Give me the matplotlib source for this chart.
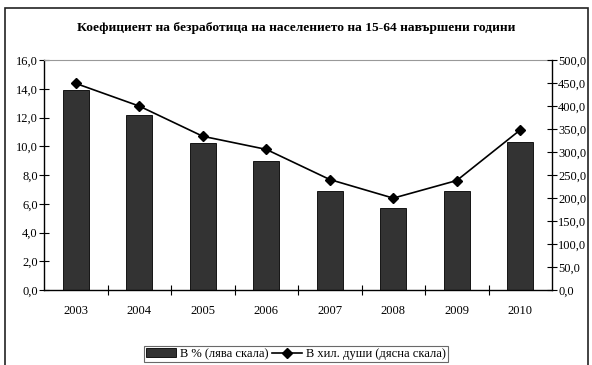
import matplotlib.pyplot as plt
import numpy as np
from matplotlib.patches import Rectangle
from matplotlib.ticker import FuncFormatter, FixedLocator

years = ["2003", "2004", "2005", "2006", "2007", "2008", "2009", "2010"]
rate_pct = [13.9, 12.2, 10.2, 9.0, 6.9, 5.7, 6.9, 10.3]
persons_k = [449.1, 399.8, 334.2, 305.7, 240.2, 199.7, 238.0, 348.0]

plt.rcParams['font.family'] = ['Liberation Serif', 'DejaVu Serif']

fig = plt.figure(figsize=(5.92, 3.65), dpi=100)
fig.patches.append(Rectangle((5 / 592, -0.05), 583 / 592, 1 - 8 / 365 + 0.05,
                             transform=fig.transFigure, fill=False,
                             edgecolor='#222222', linewidth=1.2))

ax = fig.add_axes([44 / 592, 1 - 290 / 365, 508 / 592, 230 / 365])
x = np.arange(len(years))
ax.bar(x, rate_pct, width=0.41, color='#333333', edgecolor='black',
       linewidth=0.6, label='В % (лява скала)')
ax.set_xlim(-0.5, len(years) - 0.5)
ax.set_ylim(0, 16)
ax.set_yticks(np.arange(0, 16.1, 2))

comma = lambda fmt: FuncFormatter(lambda v, p: (fmt % v).replace('.', ','))
ax.yaxis.set_major_formatter(comma('%.1f'))

ax.set_xticks(x)
ax.set_xticklabels(years)
ax.xaxis.set_minor_locator(FixedLocator(np.arange(0.5, len(years) - 1, 1)))
ax.tick_params(axis='x', which='major', length=0, pad=11, labelsize=9)
ax.tick_params(axis='x', which='minor', length=7, direction='inout', width=0.8)
ax.tick_params(axis='y', length=7, direction='inout', width=0.8, labelsize=9, pad=1)

for s in ['left', 'bottom']:
    ax.spines[s].set_linewidth(1.0)
ax.spines['right'].set_visible(False)
ax.spines['top'].set_color('#999999')
ax.spines['top'].set_linewidth(0.8)

ax2 = ax.twinx()
ax2.plot(x, persons_k, color='black', linewidth=1.2, marker='D',
         markersize=5, label='В хил. души (дясна скала)')
ax2.set_ylim(0, 500)
ax2.set_yticks(np.arange(0, 501, 50))
ax2.yaxis.set_major_formatter(comma('%.1f'))
ax2.tick_params(axis='y', length=7, direction='inout', width=0.8, labelsize=9, pad=1)
ax2.spines['right'].set_linewidth(1.0)
ax2.spines['top'].set_visible(False)
ax2.spines['left'].set_visible(False)
ax2.spines['bottom'].set_visible(False)

fig.text(0.5, 1 - 28 / 365, 'Коефициент на безработица на населението на 15-64 навършени години',
         ha='center', va='center', fontsize=9.7, fontweight='bold')

h1, l1 = ax.get_legend_handles_labels()
h2, l2 = ax2.get_legend_handles_labels()
leg = fig.legend(h1 + h2, l1 + l2, loc='center', bbox_to_anchor=(296 / 592, 1 - 354 / 365),
                 ncol=2, fontsize=9, frameon=True, fancybox=False, edgecolor='#444444',
                 handlelength=2.4, handletextpad=0.3, columnspacing=0.3,
                 borderpad=0.15, borderaxespad=0)
leg.get_frame().set_linewidth(0.8)

fig.savefig('out.png', dpi=100)
